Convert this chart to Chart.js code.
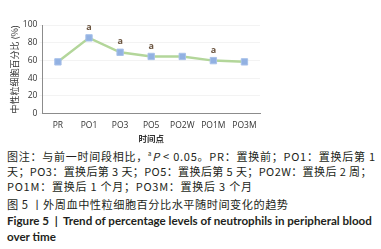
<!DOCTYPE html>
<html>
<head>
<meta charset="utf-8">
<script src="https://cdn.jsdelivr.net/npm/chart.js@4/dist/chart.umd.min.js"></script>
<style>
  body { margin: 0; width: 381px; height: 249px; background: #fff; overflow: hidden; }
  #wrap { position: absolute; left: 0; top: 0; width: 381px; height: 144px; }
  #cap { position: absolute; left: 7px; top: 146px; width: 380px; font-family: "Noto Sans CJK SC", sans-serif; color: #231f20; white-space: nowrap; }
  #cap .n { font-size: 11px; line-height: 15px; letter-spacing: 0.75px; }
  #cap .n2 { letter-spacing: 0.4px; }
  #cap .t { font-size: 11.2px; line-height: 17px; letter-spacing: 0.5px; margin-top: 2px; }
  #cap .e { font-family: Lato, "Open Sans", sans-serif; font-weight: bold; font-size: 11.6px; line-height: 16px; }
</style>
</head>
<body>
<div id="wrap"><canvas id="c"></canvas></div>
<div id="cap">
  <div class="n">图注：与前一时间段相比，<sup style="font-size:6px">a</sup><i>P</i> &lt; 0.05。PR：置换前；PO1：置换后第 1</div>
  <div class="n n2">天；PO3：置换后第 3 天；PO5：置换后第 5 天；PO2W：置换后 2 周；</div>
  <div class="n">PO1M：置换后 1 个月；PO3M：置换后 3 个月</div>
  <div class="t">图 5 丨外周血中性粒细胞百分比水平随时间变化的趋势</div>
  <div class="e">Figure 5 &nbsp;|&nbsp; Trend of percentage levels of neutrophils in peripheral blood</div>
  <div class="e">over time</div>
</div>
<script>
// data
const timePoints = ['PR', 'PO1', 'PO3', 'PO5', 'PO2W', 'PO1M', 'PO3M'];
const neutrophilPct = [58.4, 85.5, 69.2, 64.5, 64.5, 59.8, 58.4];
const sigMarks = ['', 'a', 'a', 'a', '', 'a', ''];
const yTicks = [0, 20, 40, 60, 80, 100];

// draws the "a" above significant points
const sigPlugin = {
  id: 'sig',
  afterDatasetsDraw(chart) {
    const ctx = chart.ctx;
    const pts = chart.getDatasetMeta(0).data;
    ctx.save();
    ctx.font = 'bold 9px "Open Sans", sans-serif';
    ctx.fillStyle = '#6b5540';
    ctx.textAlign = 'center';
    ctx.textBaseline = 'bottom';
    pts.forEach((p, i) => {
      if (sigMarks[i]) ctx.fillText(sigMarks[i], p.x, p.y - 6);
    });
    ctx.restore();
  }
};

new Chart(document.getElementById('c'), {
  type: 'line',
  data: {
    labels: timePoints,
    datasets: [{
      data: neutrophilPct,
      borderColor: '#b3d69a',
      borderWidth: 2.5,
      pointStyle: 'rect',
      pointRadius: 4.5,
      pointBackgroundColor: '#92b1e2',
      pointBorderColor: '#a9c2ea',
      pointBorderWidth: 1,
      tension: 0
    }]
  },
  options: {
    responsive: true,
    maintainAspectRatio: false,
    animation: false,
    layout: { padding: { left: 9, right: 121, top: 25, bottom: 0 } },
    plugins: { legend: { display: false }, tooltip: { enabled: false } },
    scales: {
      x: {
        offset: true,
        grid: { display: false, drawTicks: true, tickLength: 4, offset: true },
        border: { color: '#8c8c8c' },
        ticks: { color: '#333', font: { family: '"Open Sans", sans-serif', size: 8.5 }, padding: 3, maxRotation: 0 },
        title: { display: true, text: '时间点', color: '#333', font: { family: '"Noto Sans CJK SC"', size: 8.5, weight: 'bold' }, padding: { top: 0, bottom: 0 } }
      },
      y: {
        min: 0,
        max: 100,
        afterBuildTicks(axis) { axis.ticks = yTicks.map(v => ({ value: v })); },
        grid: { color: '#f3f3f3', tickLength: 3, drawOnChartArea: true },
        border: { color: '#8c8c8c' },
        ticks: { color: '#333', font: { family: '"Open Sans", sans-serif', size: 8.5 }, padding: 2 },
        title: { display: true, text: '中性粒细胞百分比 (%)', color: '#333', font: { family: '"Noto Sans CJK SC"', size: 9 }, padding: { top: 0, bottom: 1 } }
      }
    }
  },
  plugins: [sigPlugin]
});
</script>
</body>
</html>
